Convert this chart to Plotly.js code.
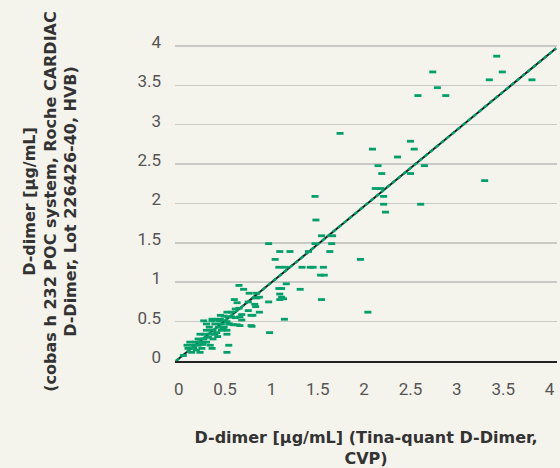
<!DOCTYPE html>
<html>
<head>
<meta charset="utf-8">
<script src="https://cdn.plot.ly/plotly-3.0.1.min.js"></script>
<style>html,body{margin:0;padding:0;background:#f4f3ec;}</style>
</head>
<body>
<div id="chart" style="width:560px;height:468px;"></div>
<script>
// Tina-quant D-Dimer (x) vs cobas h 232 (y), µg/mL
const xVals = [3.43,2.74,3.49,3.35,3.81,2.79,2.58,2.88,1.74,2.50,2.09,2.54,2.36,2.15,2.65,2.19,2.50,3.30,2.12,2.18,
  2.21,1.47,2.21,2.61,2.23,1.48,1.54,1.66,0.97,1.47,1.65,1.09,1.20,1.40,1.63,1.96,1.04,1.08,1.15,1.33,
  1.42,1.45,1.56,1.53,1.57,2.04,1.54,1.31,1.16,1.08,1.11,1.09,1.11,1.09,1.13,0.97,1.14,0.98,
  0.65,0.70,0.76,0.84,0.87,0.84,0.60,0.63,0.75,0.82,0.83,0.61,0.65,0.75,0.87,0.68,0.78,0.80,0.52,0.57,
  0.45,0.49,0.53,0.36,0.40,0.45,0.68,0.63,0.66,0.78,0.79,0.54,0.52,
  0.27,0.36,0.44,0.52,0.30,0.39,0.46,0.54,0.33,0.43,0.49,0.30,0.37,0.46,0.52,0.23,0.28,0.34,0.39,0.52,
  0.21,0.27,0.37,0.12,0.18,0.23,0.30,0.09,0.16,0.21,0.34,0.10,0.16,0.25,0.36,0.14,0.23,0.05,0.19,0.26,
  0.32,0.41,0.57,0.61,0.66,0.55,0.59,0.42,0.48];
const yVals = [3.87,3.67,3.67,3.57,3.57,3.47,3.37,3.37,2.89,2.79,2.69,2.69,2.59,2.48,2.48,2.38,2.38,2.29,2.19,2.19,
  2.09,2.09,1.99,1.99,1.89,1.79,1.59,1.59,1.49,1.49,1.49,1.39,1.39,1.39,1.39,1.29,1.29,1.19,1.19,1.19,
  1.19,1.19,1.19,1.09,1.09,0.62,0.78,0.91,0.98,0.92,0.92,0.85,0.81,0.78,0.79,0.75,0.53,0.36,
  0.96,0.91,0.86,0.86,0.81,0.80,0.78,0.74,0.75,0.72,0.69,0.66,0.67,0.64,0.62,0.59,0.58,0.58,0.62,0.62,
  0.58,0.57,0.56,0.53,0.53,0.53,0.52,0.46,0.45,0.45,0.44,0.20,0.11,
  0.51,0.51,0.51,0.50,0.47,0.47,0.47,0.47,0.43,0.43,0.43,0.39,0.39,0.39,0.39,0.34,0.34,0.34,0.34,0.34,
  0.28,0.28,0.28,0.24,0.24,0.24,0.24,0.20,0.20,0.20,0.20,0.16,0.16,0.16,0.16,0.11,0.11,0.07,0.14,0.21,
  0.30,0.36,0.56,0.55,0.56,0.47,0.46,0.31,0.41];
// identity reference line
const lineX = [-0.03, 4.07];
const lineY = [0, 3.97];
const tickVals = [0,0.5,1,1.5,2,2.5,3,3.5,4];
const tickText = ['0','0.5','1','1.5','2','2.5','3','3.5','4'];

const green = '#00a06b';
const titleFont = {family: '"DejaVu Sans", sans-serif', size: 16, color: '#333', weight: 'bold'};
const tickFont = {family: 'Roboto, sans-serif', size: 17, color: '#555'};
const traces = [
  {x: lineX, y: lineY, mode: 'lines', line: {color: '#1e1e1e', width: 2}, hoverinfo: 'skip', showlegend: false},
  {x: lineX, y: lineY, mode: 'lines', line: {color: green, width: 2.5, dash: '4px,3px'}, hoverinfo: 'skip', showlegend: false},
  {x: xVals, y: yVals, mode: 'markers', showlegend: false,
   marker: {symbol: 'line-ew', size: 5, color: green, line: {color: green, width: 2.8}}}
];
const layout = {
  width: 560, height: 468,
  margin: {l: 175, r: 3, t: 42, b: 107},
  paper_bgcolor: '#f4f3ec', plot_bgcolor: '#f4f3ec',
  showlegend: false,
  xaxis: {
    range: [-0.04, 4.08], tickvals: tickVals, ticktext: tickText,
    showgrid: false, zeroline: false, showline: true, linecolor: '#222', linewidth: 1.5,
    ticks: '', ticklabelstandoff: 12,
    tickfont: tickFont,
    title: {text: 'D-dimer [µg/mL] (Tina-quant D-Dimer,<br>CVP)', standoff: 36, font: titleFont}
  },
  yaxis: {
    range: [0, 4.05], tickvals: tickVals, ticktext: tickText,
    showgrid: true, gridcolor: '#c9c9c6', gridwidth: 1.5, zeroline: false, showline: false,
    ticks: '', ticklabelstandoff: 13, ticklabelshift: -4,
    tickfont: tickFont,
    title: {text: 'D-dimer [µg/mL]<br>(cobas h 232 POC system, Roche CARDIAC<br>D-Dimer, Lot 226426-40, HVB)', standoff: 56, font: titleFont}
  }
};
Plotly.newPlot('chart', traces, layout, {displayModeBar: false, staticPlot: true});
</script>
</body>
</html>
